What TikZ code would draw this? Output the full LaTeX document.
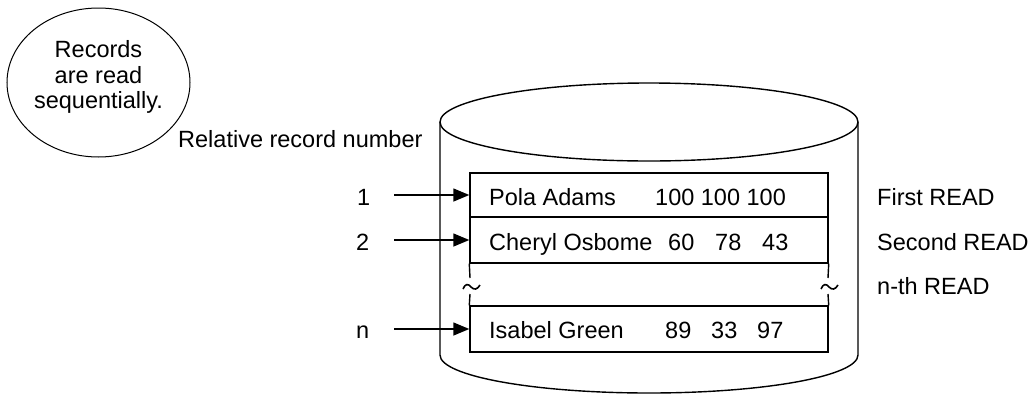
\documentclass[tikz,border=0pt]{standalone}
\usepackage{fontspec}
\setmainfont{Liberation Sans}
\usetikzlibrary{arrows.meta,shapes.geometric}
\begin{document}
\begin{tikzpicture}[x=1pt,y=-1pt,
  line/.style={line width=1.4pt},
  txt/.style={inner sep=0pt, anchor=base west, font=\fontsize{23.5}{25}\selectfont},
  rec/.style={draw, line width=1.4pt, minimum width=358pt, inner sep=0pt},
  arr/.style={line width=1.4pt, -{Triangle[length=16pt,width=13pt]}},
  tildemark/.style={line width=1.6pt}]
\useasboundingbox (0,0) rectangle (1032,394);
% note ellipse
\node[draw, ellipse, line width=1pt, minimum width=183pt, minimum height=149pt, inner sep=0pt] (note) at (98.5,82.5) {};
\node[inner sep=0pt, align=center, font=\fontsize{23.5}{25.5}\selectfont] (notetext) at (98.5,77) {Records\\are read\\sequentially.};
% cylinder
\draw[line] (649,122) ellipse[x radius=209, y radius=39];
\coordinate (cl) at (440,122);
\coordinate (cr) at (858,122);
\draw[line] (cl) -- (440,355) arc[start angle=180, end angle=0, x radius=209, y radius=38] -- (cr);
% records
\node[rec, minimum height=44pt] (r1) at (649,195) {};
\node[rec, minimum height=46pt] (r2) at (649,240) {};
\node[rec, minimum height=46pt] (rn) at (649,329) {};
\coordinate (bl1) at (470,278);
\coordinate (bl2) at (470,294);
\coordinate (br1) at (828,278);
\coordinate (br2) at (828,294);
\draw[line] (r2.south west) -- (bl1);
\draw[line] (bl2) -- (rn.north west);
\draw[line] (r2.south east) -- (br1);
\draw[line] (br2) -- (rn.north east);
\draw[tildemark] (463,289) .. controls (465,284) and (468,283) .. (471,287) .. controls (474,290) and (477,290) .. (480,285);
\draw[tildemark] (821,289) .. controls (823,284) and (826,283) .. (829,287) .. controls (832,290) and (835,290) .. (838,285);
% record texts
\node[txt] (n1) at (489,205) {Pola Adams};
\node[txt] (v1) at (655,205) {100 100 100};
\node[txt] (n2) at (489,250) {Cheryl Osbome};
\node[txt] (v2a) at (668,250) {60};
\node[txt] (v2b) at (715,250) {78};
\node[txt] (v2c) at (762,250) {43};
\node[txt] (n3) at (489,338) {Isabel Green};
\node[txt] (v3a) at (665,338) {89};
\node[txt] (v3b) at (711,338) {33};
\node[txt] (v3c) at (757,338) {97};
% relative record numbers
\node[txt] (rrn) at (178,147) {Relative record number};
\node[txt] (l1) at (357,205) {1};
\node[txt] (l2) at (356,250) {2};
\node[txt] (ln) at (356,338) {n};
\coordinate (s1) at (394,195);
\coordinate (s2) at (394,240);
\coordinate (sn) at (394,329);
\draw[arr] (s1) -- (r1.west);
\draw[arr] (s2) -- (r2.west);
\draw[arr] (sn) -- (rn.west);
% read labels
\node[txt] (f1) at (877,205) {First READ};
\node[txt] (f2) at (877,250) {Second READ};
\node[txt] (fn) at (877,294) {n-th READ};
\end{tikzpicture}
\end{document}
